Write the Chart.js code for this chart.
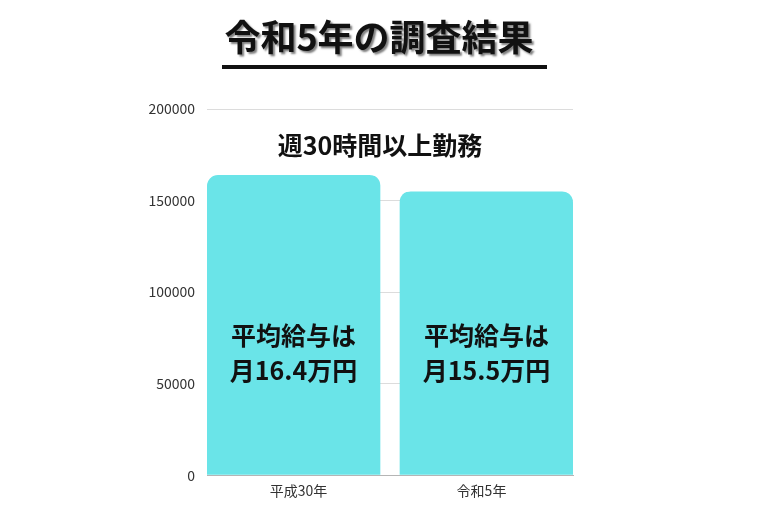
<!DOCTYPE html>
<html><head><meta charset="utf-8">
<script src="https://cdn.jsdelivr.net/npm/chart.js@4.4.0/dist/chart.umd.min.js"></script>
<style>html,body{margin:0;padding:0;background:#fff;} #wrap{width:780px;height:520px;position:relative}</style>
</head><body><div id="wrap"><canvas id="c"></canvas></div>
<script>
const mainTitle = "令和5年の調査結果";
const subTitle = "週30時間以上勤務";
const categories = ["平成30年", "令和5年"];
const salaries = [164000, 155000];
const labelPrefix = "平均給与は";
const yTickValues = [0, 50000, 100000, 150000, 200000];

const FONT = '"Noto Sans CJK JP", "Noto Sans", sans-serif';
const HALF_GAP = 10;
const RADIUS = 11;

const overlay = {
  id: 'overlay',
  afterDatasetsDraw(chart) {
    const ctx = chart.ctx;
    const meta = chart.getDatasetMeta(0);
    ctx.save();
    ctx.fillStyle = '#111';
    ctx.textAlign = 'center';
    ctx.textBaseline = 'middle';
    ctx.font = 'bold 25px ' + FONT;
    meta.data.forEach((bar, i) => {
      const v = salaries[i];
      const cx = bar.x + (i === 0 ? -HALF_GAP : HALF_GAP) / 2 * 1;
      ctx.fillText(labelPrefix, cx, 335);
      ctx.fillText('月' + (v / 10000).toFixed(1) + '万円', cx, 370);
    });
    ctx.restore();
  },
  afterDraw(chart) {
    const ctx = chart.ctx;
    ctx.save();
    ctx.textAlign = 'center';
    ctx.textBaseline = 'middle';
    ctx.fillStyle = '#111';
    ctx.font = 'bold 25px ' + FONT;
    ctx.fillText(subTitle, 380, 145);
    ctx.font = 'bold 36px ' + FONT;
    ctx.shadowColor = 'rgba(0,0,0,0.5)';
    ctx.shadowOffsetX = 2;
    ctx.shadowOffsetY = 2;
    ctx.shadowBlur = 2;
    ctx.fillText(mainTitle, 379, 37);
    ctx.shadowColor = 'transparent';
    ctx.fillStyle = '#111';
    ctx.fillRect(222, 65, 325, 4);
    ctx.restore();
  }
};

new Chart(document.getElementById('c'), {
  type: 'bar',
  data: {
    labels: categories,
    datasets: [{
      data: salaries,
      backgroundColor: '#6ae4e8',
      borderColor: 'rgba(0,0,0,0)',
      borderWidth: (c) => c.dataIndex === 0
        ? { top: 0, left: 0, bottom: 0, right: HALF_GAP }
        : { top: 0, left: HALF_GAP, bottom: 0, right: 0 },
      borderRadius: (c) => c.dataIndex === 0
        ? { topLeft: RADIUS, topRight: RADIUS + HALF_GAP, bottomLeft: 0, bottomRight: 0 }
        : { topLeft: RADIUS + HALF_GAP, topRight: RADIUS, bottomLeft: 0, bottomRight: 0 },
      borderSkipped: false,
      categoryPercentage: 1,
      barPercentage: 1
    }]
  },
  options: {
    responsive: true,
    maintainAspectRatio: false,
    animation: false,
    layout: { padding: { top: 109, right: 207, bottom: 14, left: 0 } },
    plugins: { legend: { display: false }, title: { display: false }, tooltip: { enabled: false } },
    scales: {
      y: {
        min: 0,
        max: yTickValues[yTickValues.length - 1],
        afterBuildTicks(s) { s.ticks = yTickValues.map(v => ({ value: v })); },
        afterFit(s) { s.width = 207; },
        ticks: { color: '#333', font: { family: FONT, size: 14 }, padding: 12, callback: (v) => String(v) },
        grid: { color: '#dcdcdc', drawTicks: false },
        border: { display: false }
      },
      x: {
        grid: { display: false, drawTicks: false },
        border: { display: true, color: '#b5b5b5' },
        ticks: { color: '#333', font: { family: FONT, size: 14 }, padding: 7 }
      }
    }
  },
  plugins: [overlay]
});
</script>
</body></html>
